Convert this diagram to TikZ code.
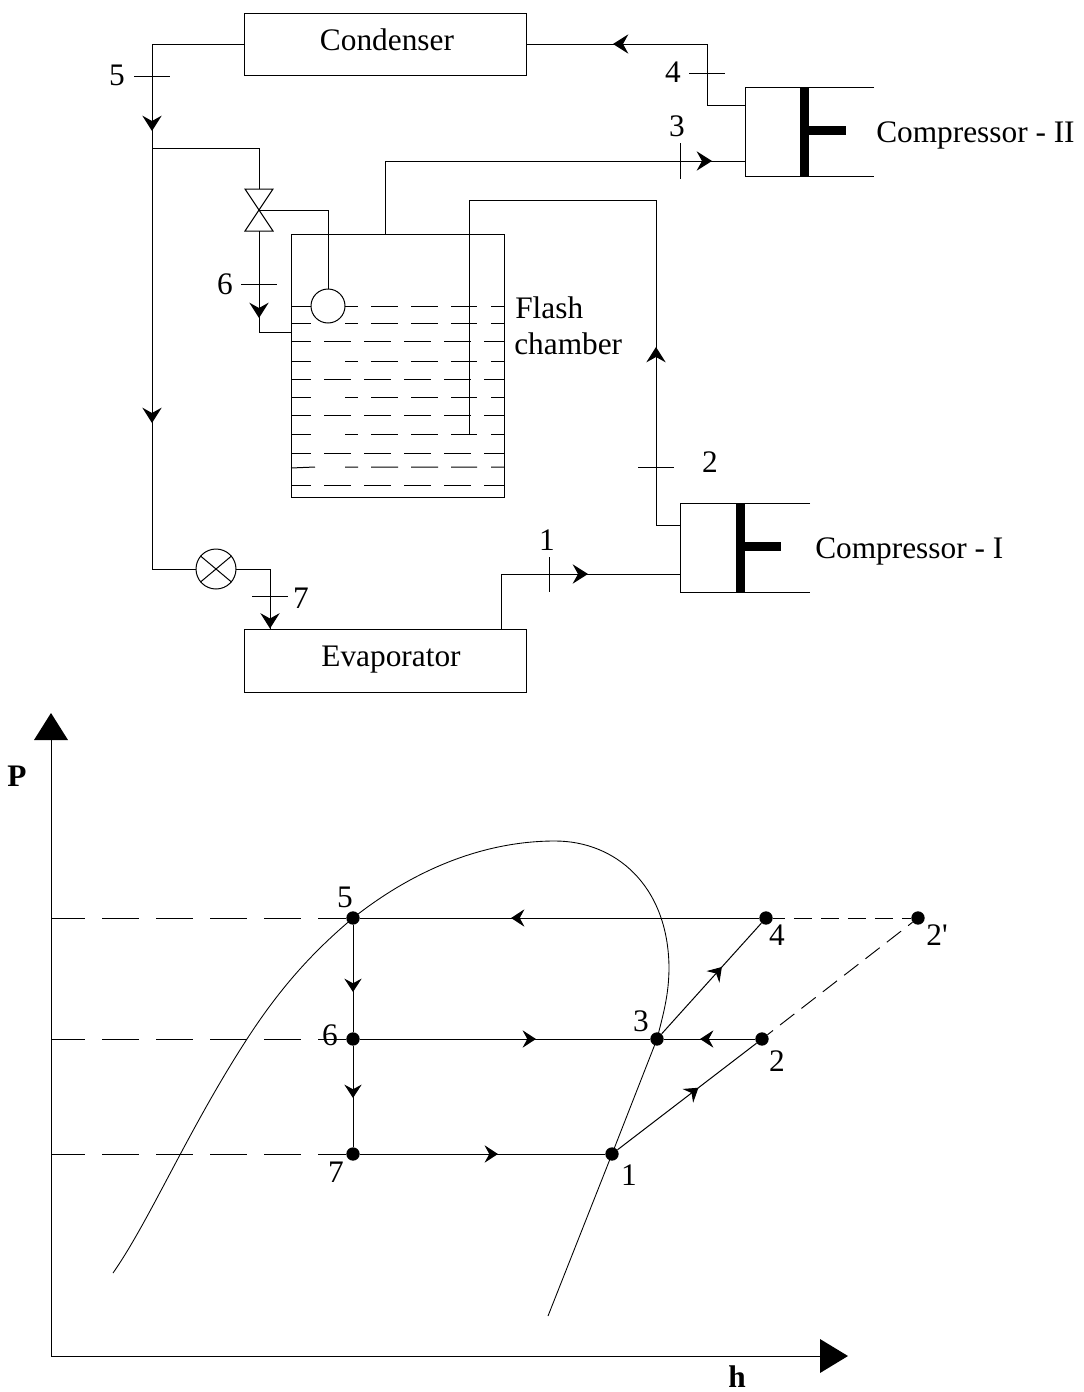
\documentclass[tikz,border=0pt]{standalone}
\usepackage{fontspec}
\setmainfont{Liberation Serif}
\usetikzlibrary{arrows.meta,decorations.markings}
\tikzset{
  wire/.style={line width=0.75pt,line join=miter},
  thinw/.style={line width=0.65pt},
  lbl/.style={inner sep=0pt,font=\fontsize{23.5}{28}\selectfont},
  lbll/.style={lbl,anchor=west},
  blbl/.style={lbl,font=\fontsize{23.5}{28}\selectfont\bfseries},
  boxn/.style={draw,line width=0.75pt,minimum width=211.5pt,minimum height=46.5pt,inner sep=0pt,anchor=north west},
  hd/.style={postaction={decorate,decoration={markings,mark=at position (#1)*0.75pt with {\arrow{Stealth[length=11.5pt,width=14.5pt,inset=4pt]}}}}},
  hds/.style={postaction={decorate,decoration={markings,mark=at position (#1)*0.75pt with {\arrow{Stealth[length=10pt,width=13pt,inset=3.5pt]}}}}},
  dashes/.style={line width=0.75pt,dash pattern=on 27.75pt off 12.75pt,dash phase=2.25pt},
  dashr/.style={line width=0.75pt,dash pattern=on 13.5pt off 6.75pt,dash phase=4.5pt},
  dashs/.style={line width=0.7pt,dash pattern=on 13.5pt off 6.75pt,dash phase=8.25pt},
  dot/.style={circle,fill=black,inner sep=0pt,minimum size=10pt},
  piston/.style={line width=6.6pt},
  bighead/.style={fill=black,draw=none},
}
\begin{document}
\begin{tikzpicture}[x=0.75pt,y=-0.75pt]
\useasboundingbox (0,0) rectangle (1084,1392);
% boxes
\node[boxn] (cond) at (244,13) {};
\node[lbl] (condt) at (387,40) {Condenser};
\node[boxn,minimum height=47.25pt] (evap) at (244,629) {};
\node[lbl] (evapt) at (391,660) {Evaporator};
\node[draw,wire,minimum width=159.75pt,minimum height=197.25pt,inner sep=0pt,anchor=north west] (flash) at (291,234) {};
\node[lbll] (fl1) at (515,308) {Flash};
\node[lbll] (fl2) at (514,344) {chamber};
% coordinates
\coordinate (c5a) at (152,44);
\coordinate (c5b) at (152,569);
\coordinate (branch) at (152,148);
\coordinate (br2) at (259,148);
\coordinate (vtop) at (259,189);
\coordinate (vmid) at (259,210);
\coordinate (vbot) at (259,231);
\coordinate (v6) at (259,332);
\coordinate (fin) at (291,332);
\coordinate (fl) at (328,210);
\coordinate (flb) at (328,289);
\coordinate (xv) at (216,569);
\coordinate (e1) at (270,569);
\coordinate (e2) at (270,629);
\coordinate (v1) at (385,234);
\coordinate (v2) at (385,161);
\coordinate (c2in) at (745,161);
\coordinate (p1) at (469,435);
\coordinate (p2) at (469,200);
\coordinate (p3) at (656,200);
\coordinate (p4) at (656,525);
\coordinate (c1out) at (680,525);
\coordinate (ev1) at (501,629);
\coordinate (ev2) at (501,574);
\coordinate (c1in) at (680,574);
\coordinate (c2o) at (745,105);
\coordinate (c2o1) at (707,105);
\coordinate (c2o2) at (707,44);
\coordinate (cin) at (526,44);
\coordinate (co) at (244,44);
% chamber liquid
\foreach \y in {306,323,361,397,434}{
  \draw[wire] (291,\y) -- (311,\y) (345,\y) -- (358,\y) (371,\y) -- (398,\y) (411,\y) -- (438,\y) (451,\y) -- (477,\y) (491,\y) -- (504,\y);}
\draw[wire] (291,468) -- (315,467) (345,467) -- (358,467) (371,467) -- (398,467) (411,467) -- (438,467) (451,467) -- (477,467) (491,467) -- (504,467);
\foreach \y in {341,379,415,453,485}{
  \draw[wire] (291,\y) -- (311,\y) (324,\y) -- (351,\y) (364,\y) -- (391,\y) (404,\y) -- (431,\y) (444,\y) -- (471,\y) (484,\y) -- (504,\y);}
% pipes
\draw[wire,hd=179,hd=471] (co) -- (c5a) -- (c5b) -- (xv);
\draw[wire] (branch) -- (br2) -- (vtop);
\draw[wire] (xv) -- (e1);
\draw[wire,hd=59.5] (e1) -- (e2);
\draw[wire,hd=87] (vbot) -- (v6) -- (fin);
\draw[wire] (vmid) -- (fl) -- (flb);
\draw[wire,hd=400] (v1) -- (v2) -- (c2in);
\draw[wire,hd=202] (c1out) -- (p4) -- (p3) -- (p2) -- (p1);
\draw[wire,hd=142] (ev1) -- (ev2) -- (c1in);
\draw[wire,hd=193] (c2o) -- (c2o1) -- (c2o2) -- (cin);
% valve and float
\draw[wire] (245,189) -- (273,189) -- (245,231) -- (273,231) -- cycle;
\node[circle,draw,wire,fill=white,minimum size=25.5pt,inner sep=0pt] (float) at (328,306) {};
\node[circle,draw,wire,fill=white,minimum size=30pt,inner sep=0pt] (xvn) at (xv) {};
\draw[wire] (xvn.40) -- (xvn.220) (xvn.140) -- (xvn.320);
% ticks and labels
\draw[wire] (134,76) -- (170,76);
\node[lbl] (n5) at (117,75) {5};
\draw[wire] (241,284) -- (277,284);
\node[lbl] (n6) at (225,284) {6};
\draw[wire] (680,143) -- (680,179);
\node[lbl] (n3) at (677,126) {3};
\draw[wire] (638,467) -- (674,467);
\node[lbl] (n2) at (710,462) {2};
\draw[wire] (689,73) -- (725,73);
\node[lbl] (n4) at (673,72) {4};
\draw[wire] (549,557) -- (549,592);
\node[lbl] (n1) at (547,540) {1};
\draw[wire] (252,596) -- (288,596);
\node[lbl] (n7) at (301,598) {7};
% compressors
\draw[wire] (810,503) -- (680,503) -- (680,592) -- (810,592);
\draw[piston] (740.5,503) -- (740.5,592);
\draw[piston] (740.5,546.5) -- (781,546.5);
\node[lbll] (comp1) at (815,551) {Compressor - I};
\draw[wire] (874,87) -- (745,87) -- (745,176) -- (874,176);
\draw[piston] (804.5,87) -- (804.5,176);
\draw[piston] (804.5,130.5) -- (846,130.5);
\node[lbll] (comp2) at (876,135) {Compressor - II};
% P-h axes
\coordinate (ytop) at (51,740);
\coordinate (org) at (51,1356);
\coordinate (xend) at (820,1356);
\draw[wire] (ytop) -- (org) -- (xend);
\fill[bighead] (34,740) -- (51,713) -- (68,740) -- cycle;
\fill[bighead] (820,1339) -- (848,1356) -- (820,1373) -- cycle;
\node[blbl] (P) at (17,776) {P};
\node[blbl] (h) at (737,1377) {h};
% saturation curve
\draw[thinw] (113,1273) .. controls (150,1220) and (188,1130) .. (247,1039)
  .. controls (282,985) and (315,950) .. (353,918)
  .. controls (420,865) and (490,841) .. (555,841)
  .. controls (615,841) and (668,885) .. (669,967)
  .. controls (669,995) and (663,1015) .. (657,1039)
  -- (612,1154) -- (548,1316);
% state points
\node[dot] (s5) at (353,918) {};
\node[dot] (s6) at (353,1039) {};
\node[dot] (s7) at (353,1154) {};
\node[dot] (s1) at (612,1154) {};
\node[dot] (s3) at (657,1039) {};
\node[dot] (s2) at (762,1039) {};
\node[dot] (s4) at (766,918) {};
\node[dot] (s2p) at (918,918) {};
\coordinate (a5) at (51,918);
\coordinate (a6) at (51,1039);
\coordinate (a7) at (51,1154);
\draw[dashes] (a5) -- (s5);
\draw[dashes] (a6) -- (s6);
\draw[dashes] (a7) -- (s7);
\draw[dashr] (s4) -- (s2p);
\draw[dashs] (s2) -- (s2p);
\draw[wire,hds=248] (s4) -- (s5);
\draw[wire,hds=67] (s5) -- (s6);
\draw[wire,hds=52] (s6) -- (s7);
\draw[wire,hds=176] (s6) -- (s3);
\draw[wire,hds=138] (s7) -- (s1);
\draw[wire,hds=55] (s2) -- (s3);
\draw[wire,hds=102] (s1) -- (s2);
\draw[wire,hds=90] (s3) -- (s4);
\node[lbl] (t5) at (345,897) {5};
\node[lbl] (t6) at (330,1035) {6};
\node[lbl] (t7) at (336,1172) {7};
\node[lbl] (t1) at (629,1175) {1};
\node[lbl] (t3) at (641,1021) {3};
\node[lbl] (t2) at (777,1061) {2};
\node[lbl] (t4) at (777,935) {4};
\node[lbl] (t2p) at (937,935) {2\textquotesingle};
\end{tikzpicture}
\end{document}
